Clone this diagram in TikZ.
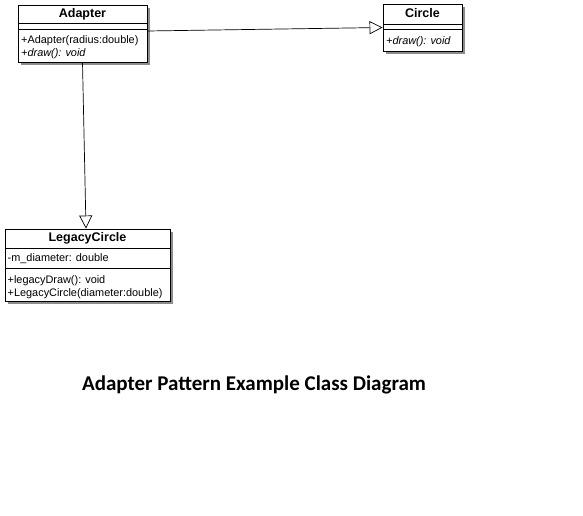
\documentclass[tikz,border=0pt]{standalone}
\usepackage{fontspec}
\setmainfont{Liberation Sans}
\newfontfamily\titlefont{Carlito}
\usetikzlibrary{arrows.meta,shadows}
\tikzset{
  classbox/.style={draw=black, line width=0.9pt, fill=white, inner sep=0pt,
    drop shadow={shadow xshift=3pt, shadow yshift=-3pt, fill=black!45, opacity=1}},
  cname/.style={font=\fontsize{12.5}{14}\selectfont\bfseries, inner sep=0pt, anchor=base},
  member/.style={font=\fontsize{10.9}{13}\selectfont, anchor=base west, inner sep=0pt},
  opmember/.style={member, font=\fontsize{10.9}{13}\selectfont\itshape},
  sep/.style={draw=black, line width=0.9pt},
  inherit/.style={draw=black, line width=0.7pt, -{Triangle[open,length=13pt,width=13pt,line width=0.7pt]}}
}
\begin{document}
\begin{tikzpicture}[x=1pt,y=-1pt]
\useasboundingbox (0,0) rectangle (583,516);
% Adapter
\node[classbox, minimum width=129pt, minimum height=57pt] (adapter) at (82.5,33.5) {};
\node[cname] (adaptername) at (82.5,17.3) {Adapter};
\draw[sep] (18,23) -- (147,23);
\draw[sep] (18,29) -- (147,29);
\node[member] (adapterm1) at (21,43.2) {+Adapter(radius:double)};
\node[opmember] (adapterm2) at (21,56.6) {+draw(): void};
% Circle
\node[classbox, minimum width=79pt, minimum height=47pt] (circle) at (422.5,27.5) {};
\node[cname] (circlename) at (422.5,17.3) {Circle};
\draw[sep] (383,24) -- (462,24);
\draw[sep] (383,29.5) -- (462,29.5);
\node[opmember] (circlem1) at (386,44.5) {+draw(): void};
% LegacyCircle
\node[classbox, minimum width=165pt, minimum height=72pt] (legacy) at (87.5,265) {};
\node[cname] (legacyname) at (87.5,241) {LegacyCircle};
\draw[sep] (5,248) -- (170,248);
\draw[sep] (5,268.5) -- (170,268.5);
\node[member] (legacya1) at (7.5,261) {-m\_diameter: double};
\node[member] (legacym1) at (7.5,283) {+legacyDraw(): void};
\node[member] (legacym2) at (7.5,296) {+LegacyCircle(diameter:double)};
% connectors
\draw[inherit] ([yshift=2.5pt]adapter.east) -- (circle.west);
\draw[inherit] (adapter.south) -- ([xshift=-1.5pt]legacy.north);
% title
\node[font=\titlefont\fontsize{21}{24}\selectfont\bfseries, inner sep=0pt, anchor=base] (title) at (254,390.5) {Adapter Pattern Example Class Diagram};
\end{tikzpicture}
\end{document}
